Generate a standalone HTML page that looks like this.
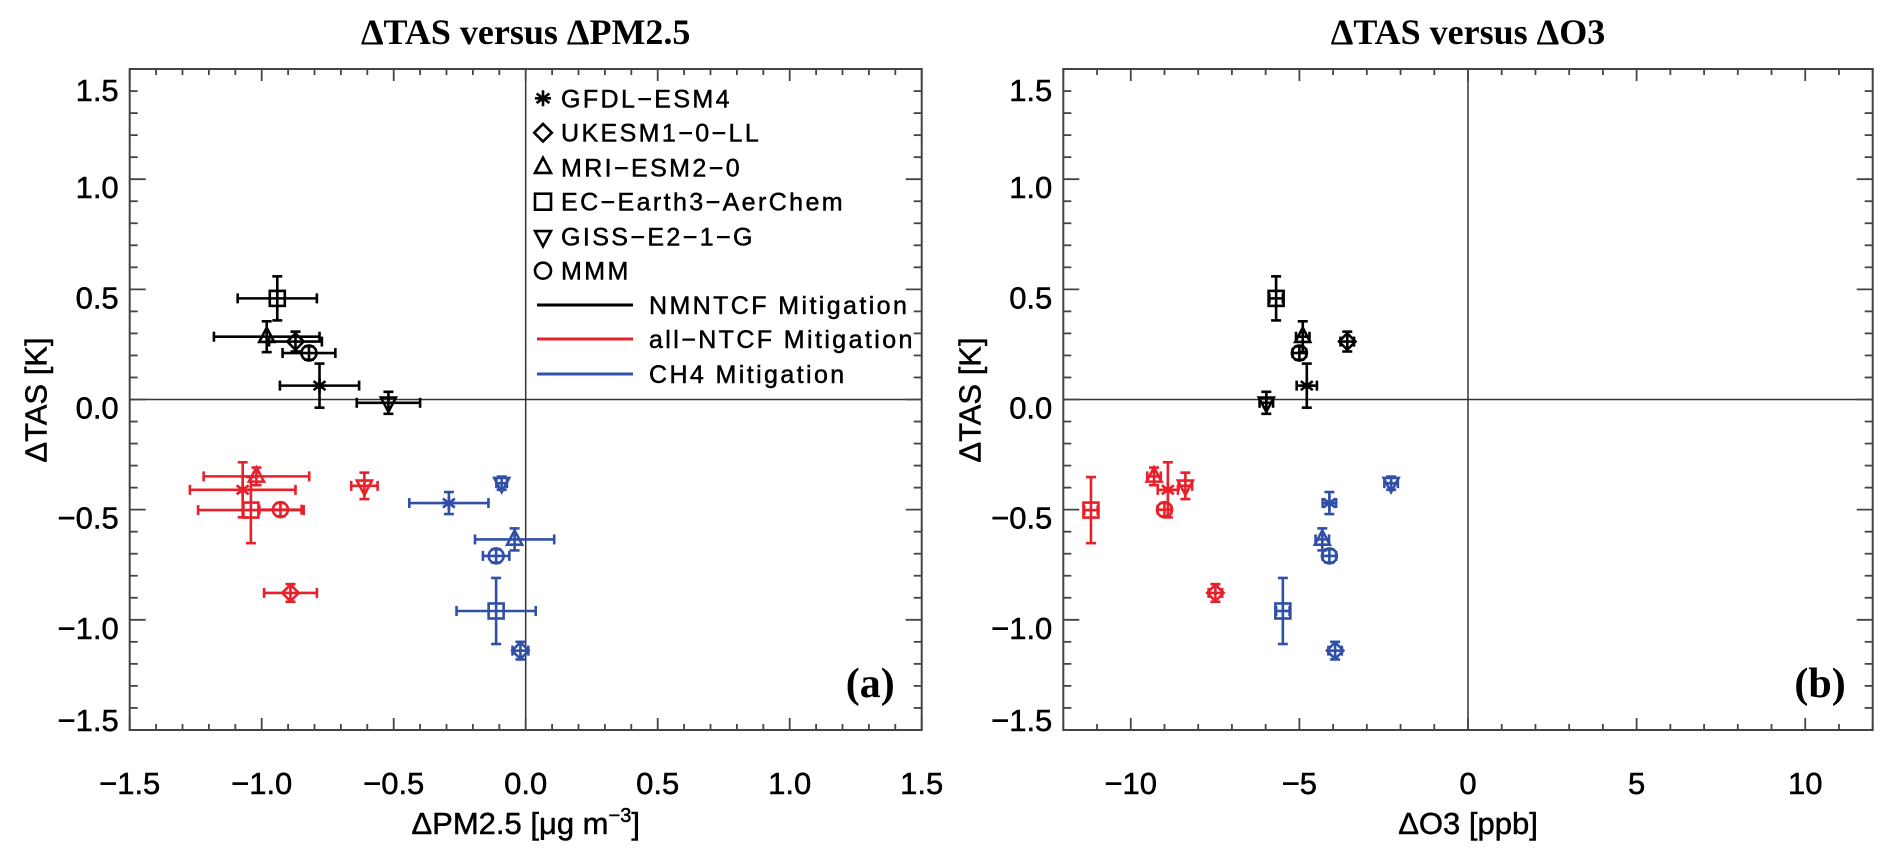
<!DOCTYPE html>
<html><head><meta charset="utf-8">
<style>
html,body{margin:0;padding:0;background:#fff;}
svg{display:block;}
.tk{font-family:"Liberation Sans",sans-serif;font-size:31px;fill:#000;stroke:#000;stroke-width:0.5px;}
.lg{font-family:"Liberation Sans",sans-serif;font-size:25px;letter-spacing:2.4px;fill:#000;stroke:#000;stroke-width:0.5px;}
.ttl{font-family:"Liberation Serif",serif;font-weight:bold;font-size:36px;fill:#000;}
.pl{font-family:"Liberation Serif",serif;font-weight:bold;font-size:42px;fill:#000;}
</style></head>
<body>
<svg id="chart" width="1892" height="865" viewBox="0 0 1892 865" xmlns="http://www.w3.org/2000/svg"></svg>
<script>
// model order: GFDL-ESM4 (asterisk), UKESM1-0-LL (diamond), MRI-ESM2-0 (triangle), EC-Earth3-AerChem (square), GISS-E2-1-G (down triangle), MMM (circle)
const models = ["GFDL-ESM4","UKESM1-0-LL","MRI-ESM2-0","EC-Earth3-AerChem","GISS-E2-1-G","MMM"];
const groups = ["NMNTCF Mitigation","all-NTCF Mitigation","CH4 Mitigation"];
const tasBlack = [0.063, 0.263, 0.285, 0.459, -0.015, 0.211];
const tasRed = [-0.41, -0.878, -0.349, -0.502, -0.392, -0.50];
const tasBlue = [-0.47, -1.14, -0.635, -0.96, -0.38, -0.71];
const tasErrBlack = [0.1, 0.045, 0.07, 0.1, 0.05, 0.03];
const tasErrRed = [0.125, 0.04, 0.04, 0.15, 0.06, 0.03];
const tasErrBlue = [0.05, 0.04, 0.05, 0.15, 0.03, 0.03];
const pmBlack = [-0.781, -0.872, -0.981, -0.941, -0.52, -0.821];
const pmRed = [-1.072, -0.891, -1.02, -1.041, -0.611, -0.929];
const pmBlue = [-0.291, -0.02, -0.042, -0.112, -0.091, -0.112];
const pmErrBlack = [0.15, 0.1, 0.2, 0.15, 0.12, 0.1];
const pmErrRed = [0.2, 0.1, 0.2, 0.2, 0.05, 0.08];
const pmErrBlue = [0.15, 0.03, 0.15, 0.15, 0.02, 0.05];
const o3Black = [-4.78, -3.58, -4.9, -5.69, -5.98, -5.0];
const o3Red = [-8.9, -7.49, -9.31, -11.18, -8.38, -9.0];
const o3Blue = [-4.11, -3.94, -4.32, -5.49, -2.28, -4.11];
const o3ErrBlack = [0.3, 0.2, 0.2, 0.2, 0.2, 0.2];
const o3ErrRed = [0.3, 0.2, 0.2, 0.2, 0.2, 0.2];
const o3ErrBlue = [0.2, 0.2, 0.2, 0.2, 0.2, 0.2];
const yTicks = [-1.5, -1.0, -0.5, 0.0, 0.5, 1.0, 1.5];
const xTicksA = [-1.5, -1.0, -0.5, 0.0, 0.5, 1.0, 1.5];
const xTicksB = [-10, -5, 0, 5, 10];

const NS = "http://www.w3.org/2000/svg";
const svg = document.getElementById("chart");
function el(tag, attrs, parent) {
  const e = document.createElementNS(NS, tag);
  for (const k in attrs) e.setAttribute(k, attrs[k]);
  (parent || svg).appendChild(e);
  return e;
}
const COLORS = ["#000000", "#e8202a", "#3050a8"];
const SHAPES = ["asterisk","diamond","triangle","square","downtri","circle"];
const TOP = 69, BOT = 730;
function yScale(v) { return 399.5 - v * 220.3; }
function fmt(v, d) { const s = Math.abs(v).toFixed(d); return (v < 0 ? "\u2212" : "") + s; }

function marker(g, shape, cx, cy, col, s) {
  const st = {fill:"none", stroke:col, "stroke-width":2.6};
  let m;
  if (shape === "square") m = el("rect", Object.assign({x:cx-s, y:cy-s, width:2*s, height:2*s}, st), g);
  else if (shape === "circle") m = el("circle", Object.assign({cx:cx, cy:cy, r:s}, st), g);
  else if (shape === "diamond") m = el("polygon", Object.assign({points:`${cx},${cy-s*1.1} ${cx+s*1.1},${cy} ${cx},${cy+s*1.1} ${cx-s*1.1},${cy}`}, st), g);
  else if (shape === "triangle") m = el("polygon", Object.assign({points:`${cx},${cy-s*1.2} ${cx+s},${cy+s*0.7} ${cx-s},${cy+s*0.7}`}, st), g);
  else if (shape === "downtri") m = el("polygon", Object.assign({points:`${cx},${cy+s*1.2} ${cx+s},${cy-s*0.7} ${cx-s},${cy-s*0.7}`}, st), g);
  else {
    m = el("path", Object.assign({d:`M${cx},${cy-s}V${cy+s}M${cx-s*0.8},${cy-s*0.6}L${cx+s*0.8},${cy+s*0.6}M${cx-s*0.8},${cy+s*0.6}L${cx+s*0.8},${cy-s*0.6}M${cx-s},${cy}H${cx+s}`}, st), g);
  }
  return m;
}

function panel(id, x0, x1, xmin, xmax, minorStep, xTicks, xDec, xSeries, xErrSeries, title, xtitle, plabel) {
  const xs = v => x0 + (v - xmin) / (xmax - xmin) * (x1 - x0);
  const g = el("g", {});
  
  
  const zl = el("g", {stroke:"#333", "stroke-width":1.5}, g);
  
  
  el("line", {x1:x0, x2:x1, y1:yScale(0), y2:yScale(0)}, zl);
  el("line", {x1:xs(0), x2:xs(0), y1:TOP, y2:BOT}, zl);
  const fr = el("rect", {x:x0, y:TOP, width:x1-x0, height:BOT-TOP, fill:"none", stroke:"#444", "stroke-width":2}, g);
  
  
  const tg = el("g", {stroke:"#444", "stroke-width":1.8}, g);
  
  
  const nX = Math.round((xmax - xmin) / minorStep);
  for (let i = 0; i <= nX; i++) {
    const v = xmin + i * minorStep;
    const major = xTicks.some(t => Math.abs(t - v) < 1e-6);
    const L = major ? 12 : 6, x = xs(v);
    el("line", {x1:x, x2:x, y1:BOT, y2:BOT-L}, tg);
    el("line", {x1:x, x2:x, y1:TOP, y2:TOP+L}, tg);
  }
  for (let i = 0; i <= 30; i++) {
    const v = -1.5 + i * 0.1;
    const major = yTicks.some(t => Math.abs(t - v) < 1e-6);
    const L = major ? 16 : 8, y = yScale(v);
    el("line", {x1:x0, x2:x0+L, y1:y, y2:y}, tg);
    el("line", {x1:x1, x2:x1-L, y1:y, y2:y}, tg);
  }
  xTicks.forEach(v => {
    const t = el("text", {x:xs(v), y:794, "text-anchor":"middle", class:"tk"}, g);
    t.textContent = fmt(v, xDec);
    
    
  });
  yTicks.forEach(v => {
    let cy = yScale(v) + 8;
    cy = Math.max(TOP + 21, Math.min(BOT - 10, cy));
    const t = el("text", {x:x0-11, y:cy+11, "text-anchor":"end", class:"tk"}, g);
    t.textContent = fmt(v, 1);
    
    
  });
  const tt = el("text", {x:(x0+x1)/2, y:44, "text-anchor":"middle", class:"ttl"}, g);
  tt.textContent = title;
  
  
  const xt = el("text", {x:(x0+x1)/2, y:834, "text-anchor":"middle", class:"tk"}, g);
  xt.innerHTML = xtitle;
  
  
  const yt = el("text", {x:0, y:0, "text-anchor":"middle", class:"tk", transform:`translate(${x0-83},400) rotate(-90)`}, g);
  yt.textContent = "\u0394TAS  [K]";
  
  
  const pl = el("text", {x:x1-27, y:697, "text-anchor":"end", class:"pl"}, g);
  pl.textContent = plabel;
  
  
  const tas = [tasBlack, tasRed, tasBlue], tasE = [tasErrBlack, tasErrRed, tasErrBlue];
  for (let gi = 0; gi < 3; gi++) {
    const col = COLORS[gi];
    for (let i = 0; i < models.length; i++) {
      const cx = xs(xSeries[gi][i]), cy = yScale(tas[gi][i]);
      const xl = xs(xSeries[gi][i] - xErrSeries[gi][i]), xr = xs(xSeries[gi][i] + xErrSeries[gi][i]);
      const yt2 = yScale(tas[gi][i] + tasE[gi][i]), yb = yScale(tas[gi][i] - tasE[gi][i]);
      const pg = el("g", {stroke:col, "stroke-width":2.6, fill:"none"}, g);
      
      
      el("line", {x1:xl, x2:xr, y1:cy, y2:cy}, pg);
      el("line", {x1:xl, x2:xl, y1:cy-5, y2:cy+5}, pg);
      el("line", {x1:xr, x2:xr, y1:cy-5, y2:cy+5}, pg);
      el("line", {x1:cx, x2:cx, y1:yt2, y2:yb}, pg);
      el("line", {x1:cx-5, x2:cx+5, y1:yt2, y2:yt2}, pg);
      el("line", {x1:cx-5, x2:cx+5, y1:yb, y2:yb}, pg);
      marker(pg, SHAPES[i], cx, cy, col, 7.5);
    }
  }
}

panel("pm25", 129.7, 921.7, -1.5, 1.5, 0.1, xTicksA, 1,
  [pmBlack, pmRed, pmBlue], [pmErrBlack, pmErrRed, pmErrBlue],
  "\u0394TAS versus \u0394PM2.5", "\u0394PM2.5  [\u03bcg  m<tspan dy='-12' font-size='20'>\u22123</tspan><tspan dy='12'>]</tspan>", "(a)");
panel("o3", 1063.3, 1872.7, -12, 12, 1, xTicksB, 0,
  [o3Black, o3Red, o3Blue], [o3ErrBlack, o3ErrRed, o3ErrBlue],
  "\u0394TAS versus \u0394O3", "\u0394O3  [ppb]", "(b)");

const lg = el("g", {});


const legRows = [98.3, 132.7, 167.3, 201.7, 236.7, 270.7];
models.forEach((m, i) => {
  const eg = el("g", {}, lg);
  
  
  marker(eg, SHAPES[i], 543, legRows[i], "#000", 8);
  const t = el("text", {x:561, y:legRows[i]+9, class:"lg"}, eg);
  t.textContent = m.replace(/-/g, "\u2212");
});
const lineRows = [305, 339, 374];
groups.forEach((gname, i) => {
  const eg = el("g", {}, lg);
  
  
  el("line", {x1:537, x2:633, y1:lineRows[i], y2:lineRows[i], stroke:COLORS[i], "stroke-width":3}, eg);
  const t = el("text", {x:649, y:lineRows[i]+9, class:"lg"}, eg);
  t.textContent = gname.replace(/-/g, "\u2212").replace(" ", "  ");
});
</script>
</body></html>
